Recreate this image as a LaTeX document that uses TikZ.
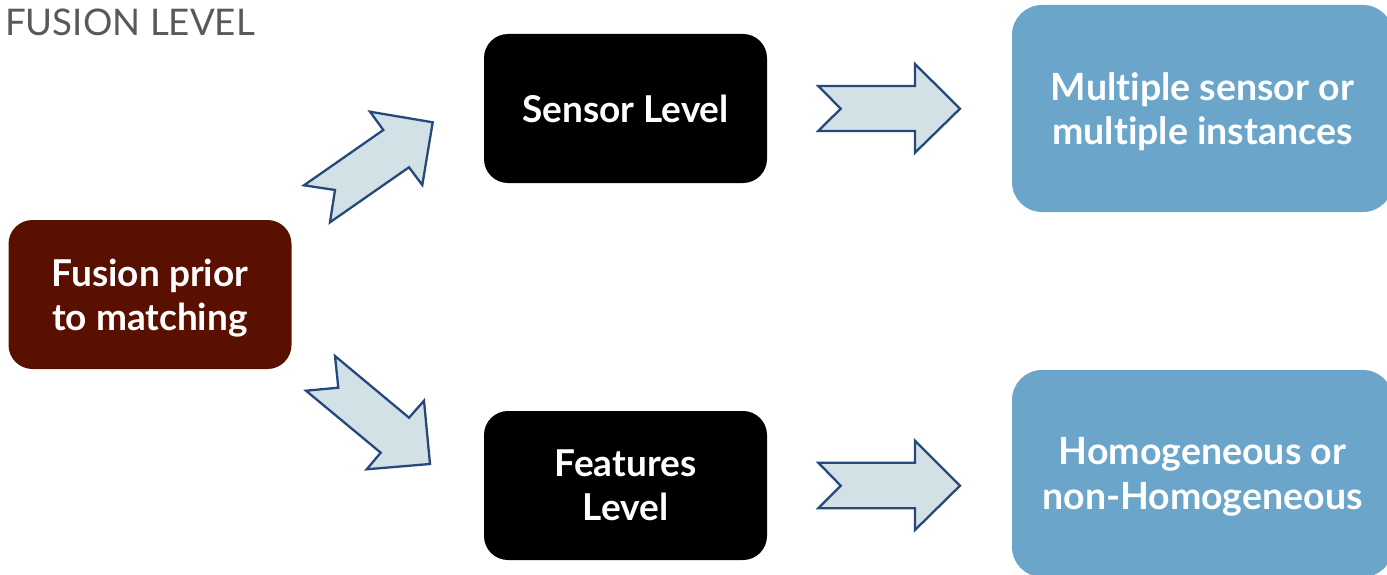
\documentclass[tikz,border=0pt]{standalone}
\usepackage{fontspec}
\setmainfont[Ligatures=NoCommon]{Lato}
\definecolor{boxred}{HTML}{5A1000}
\definecolor{boxblue}{HTML}{6BA5CA}
\definecolor{arrfill}{HTML}{D2E1E5}
\definecolor{arrline}{HTML}{25497A}
\definecolor{titlegray}{HTML}{595959}
\begin{document}
\begin{tikzpicture}[x=1pt,y=-1pt,
  box/.style={rounded corners=24pt, text=white, align=center, inner sep=0pt, text depth=0pt,
    font=\fontsize{37}{44}\selectfont\bfseries},
  smallbox/.style={box, minimum width=283pt, minimum height=149pt},
  bigbox/.style={box, fill=boxblue, rounded corners=30pt, minimum width=381pt, minimum height=207pt,
    font=\fontsize{37.5}{44.5}\selectfont\bfseries},
  blockarrow/.style={fill=arrfill, draw=arrline, line width=2.3pt, line join=miter}]
\useasboundingbox (0,0) rectangle (1387,575);
\clip (0,0) rectangle (1387,575);
\node[anchor=base west, text=titlegray, font=\fontsize{36.7}{40}\selectfont, inner sep=0pt] (title) at (5,36) {FUSION LEVEL};
\node[smallbox, fill=boxred] (fusion) at (150,294.5) {Fusion prior\\to matching};
\node[smallbox, fill=black] (sensor) at (625.5,108.5) {Sensor Level};
\node[smallbox, fill=black] (features) at (625.5,485.5) {Features\\Level};
\node[bigbox] (multi) at (1202.5,108.5) {Multiple sensor or\\multiple instances};
\node[bigbox] (homog) at (1202.5,473.5) {Homogeneous or\\non-Homogeneous};
\draw[blockarrow] (432.7,122.3) -- (370,111.7) -- (383.3,130) -- (304,185.3) -- (335,190) -- (330,222.3) -- (409,167.3) -- (422.3,185) -- cycle;
\draw[blockarrow] (430,464) -- (424,400.7) -- (409,417.7) -- (335,356) -- (338.3,387.7) -- (306,390.7) -- (380.7,452.7) -- (366.7,469.3) -- cycle;
\draw[blockarrow] (960,108.7) -- (915,64) -- (915,86) -- (818.3,86) -- (840.7,108.7) -- (818.3,131) -- (915,131) -- (915,152.7) -- cycle;
\draw[blockarrow] (960,485.7) -- (915,440.7) -- (915,462.7) -- (818.3,462.7) -- (840.7,485.7) -- (818.3,508.3) -- (915,508.3) -- (915,530) -- cycle;
\end{tikzpicture}
\end{document}
